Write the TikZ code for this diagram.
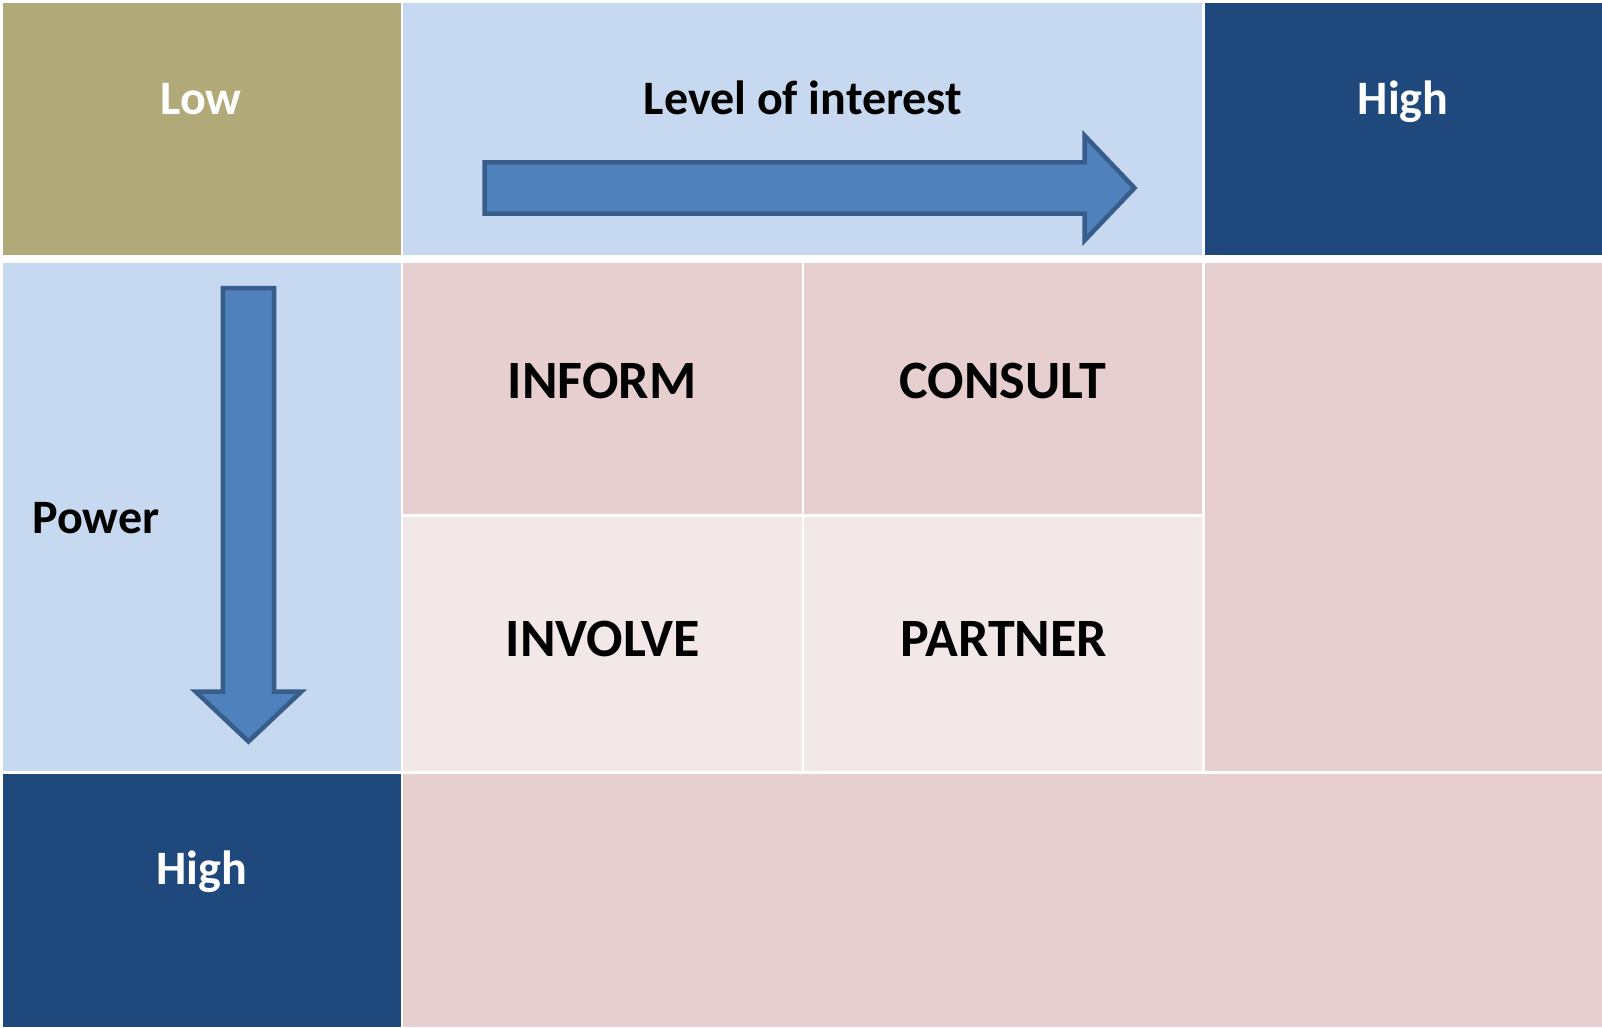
\documentclass[tikz,border=0pt]{standalone}
\usepackage{fontspec}
\setmainfont{Carlito}
\definecolor{olive}{HTML}{B1A977}
\definecolor{paleblue}{HTML}{C6D9F1}
\definecolor{navy}{HTML}{1F497D}
\definecolor{rose}{HTML}{E7CFCF}
\definecolor{palerose}{HTML}{F2E8E8}
\definecolor{arrowfill}{HTML}{4F81BD}
\definecolor{arrowline}{HTML}{385D8A}
\begin{document}
\begin{tikzpicture}[x=1pt,y=-1pt,
  cell/.style={fill=#1,draw=none},
  label/.style={font=\fontsize{48}{56}\selectfont\bfseries,anchor=base,inner sep=0pt},
  bigword/.style={font=\fontsize{54}{62}\selectfont\bfseries,anchor=base,inner sep=0pt},
  blockarrow/.style={fill=arrowfill,draw=arrowline,line width=4.5pt,miter limit=10}]
\useasboundingbox (0,0) rectangle (1602,1027);
\fill[white] (0,0) rectangle (1602,1027);

% header row
\fill[cell=olive]    (3,3)     rectangle (401,255);
\fill[cell=paleblue] (403,3)   rectangle (1202,255);
\fill[cell=navy]     (1205,3)  rectangle (1602,255);

% power column
\fill[cell=paleblue] (3,263)   rectangle (401,771);
\fill[cell=navy]     (3,773.5) rectangle (401,1027);

% engagement grid
\fill[cell=rose]     (403,263)   rectangle (801.5,514);
\fill[cell=rose]     (804,263)   rectangle (1202,514);
\fill[cell=palerose] (403,516.5) rectangle (801.5,771);
\fill[cell=palerose] (804,516.5) rectangle (1202,771);
\fill[cell=rose]     (1205,263)  rectangle (1602,771);
\fill[cell=rose]     (403,773.5) rectangle (1602,1027);

% axis arrows
\draw[blockarrow] (484.5,162.3) -- (1084.5,162.3) -- (1084.5,135.5) -- (1134.5,188)
  -- (1084.5,240.5) -- (1084.5,213.5) -- (484.5,213.5) -- cycle;
\draw[blockarrow] (222.8,288) -- (274.2,288) -- (274.2,691.5) -- (301.5,691.5) -- (248.5,741.5)
  -- (195.5,691.5) -- (222.8,691.5) -- cycle;

% labels
\node[label,text=white] (low)      at (201,115)   {Low};
\node[label]            (interest) at (803,114.3) {Level of interest};
\node[label,text=white] (hightop)  at (1403,114.5) {High};
\node[label]            (power)    at (96,533.3)  {Power};
\node[label,text=white] (highbot)  at (201.5,884.8) {High};
\node[bigword] (inform)  at (602,398)    {INFORM};
\node[bigword] (consult) at (1003,398)   {CONSULT};
\node[bigword] (involve) at (603,656.5)  {INVOLVE};
\node[bigword] (partner) at (1003.7,656.5) {PARTNER};
\end{tikzpicture}
\end{document}
